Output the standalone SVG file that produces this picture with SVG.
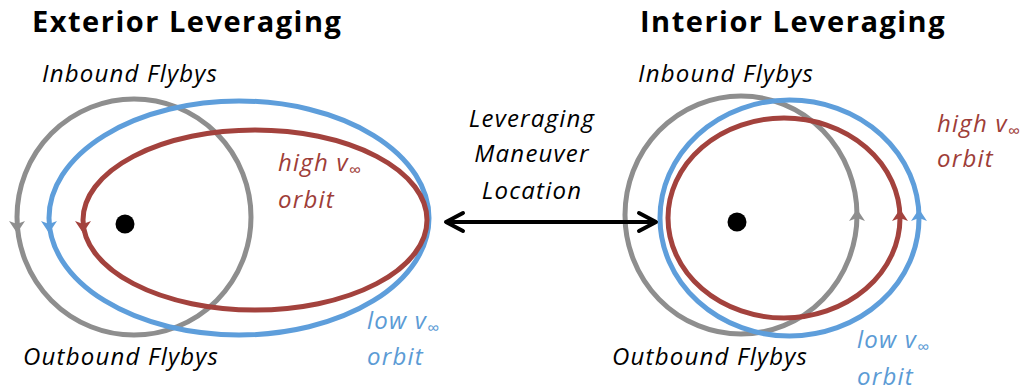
<svg xmlns="http://www.w3.org/2000/svg" width="1029" height="391" viewBox="0 0 1029 391">
<style>
.t{font-family:"Open Sans","Liberation Sans",sans-serif;font-style:italic;font-size:24px;letter-spacing:1.2px;fill:#000}
.h{font-family:"Open Sans","Liberation Sans",sans-serif;font-weight:bold;font-size:29px;letter-spacing:1.5px;fill:#000}
.r{fill:#9e3d38}
.b{fill:#5b9bd5}
.sub{font-size:17px;letter-spacing:0}
.gray{fill:none;stroke:#8e8e8e;stroke-width:5}
.blue{fill:none;stroke:#5e9edb;stroke-width:5}
.red{fill:none;stroke:#a3423d;stroke-width:5}
</style>
<defs>
<marker id="oa" viewBox="0 0 24 24" refX="21" refY="12" markerWidth="24" markerHeight="24" orient="auto-start-reverse" markerUnits="userSpaceOnUse"><path d="M4,3 L21,12 L4,21" fill="none" stroke="#000" stroke-width="4" stroke-linecap="round" stroke-linejoin="round"/></marker>
<path id="down" d="M-8,-3 L0,0 L8,-3 L0,9 z"/>
<path id="up" d="M-8,3 L0,0 L8,3 L0,-9 z"/>
</defs>
<g id="exterior">
<text class="h" x="32" y="32">Exterior Leveraging</text>
<g id="ext-gray"><ellipse class="gray" cx="134" cy="217" rx="117" ry="118"/><use href="#down" x="17" y="224" fill="#8e8e8e"/></g>
<g id="ext-blue"><ellipse class="blue" cx="239" cy="218" rx="190" ry="117"/><use href="#down" x="49" y="224" fill="#5e9edb"/></g>
<g id="ext-red"><ellipse class="red" cx="255" cy="220" rx="172" ry="90"/><use href="#down" x="83" y="224" fill="#a3423d"/></g>
<circle cx="125" cy="224" r="9.5" fill="#000"/>
<text class="t" x="42" y="82">Inbound Flybys</text>
<text class="t" x="23" y="365">Outbound Flybys</text>
<text class="t r" x="278" y="171">high v<tspan class="sub" dy="5">∞</tspan></text>
<text class="t r" x="278" y="208">orbit</text>
<text class="t b" x="367" y="329">low v<tspan class="sub" dy="5">∞</tspan></text>
<text class="t b" x="367" y="365">orbit</text>
</g>
<g id="interior">
<text class="h" x="640" y="32">Interior Leveraging</text>
<g id="int-gray"><ellipse class="gray" cx="741" cy="215" rx="116" ry="119"/><use href="#up" x="857" y="218" fill="#8e8e8e"/></g>
<g id="int-blue"><ellipse class="blue" cx="789.5" cy="218" rx="129.5" ry="118"/><use href="#up" x="919" y="218" fill="#5e9edb"/></g>
<g id="int-red"><ellipse class="red" cx="784" cy="218" rx="116" ry="100"/><use href="#up" x="900" y="218" fill="#a3423d"/></g>
<circle cx="737" cy="222" r="9.5" fill="#000"/>
<text class="t" x="638" y="82">Inbound Flybys</text>
<text class="t" x="612" y="365">Outbound Flybys</text>
<text class="t r" x="937" y="132">high v<tspan class="sub" dy="5">∞</tspan></text>
<text class="t r" x="937" y="167">orbit</text>
<text class="t b" x="857" y="348">low v<tspan class="sub" dy="5">∞</tspan></text>
<text class="t b" x="857" y="385">orbit</text>
</g>
<g id="maneuver">
<text class="t" x="532" y="127" text-anchor="middle">Leveraging</text>
<text class="t" x="532" y="162" text-anchor="middle">Maneuver</text>
<text class="t" x="532" y="199" text-anchor="middle">Location</text>
</g>
<g id="connectors">
<line x1="446" y1="222" x2="656" y2="222" stroke="#000" stroke-width="4" marker-start="url(#oa)" marker-end="url(#oa)"/>
</g>
</svg>
